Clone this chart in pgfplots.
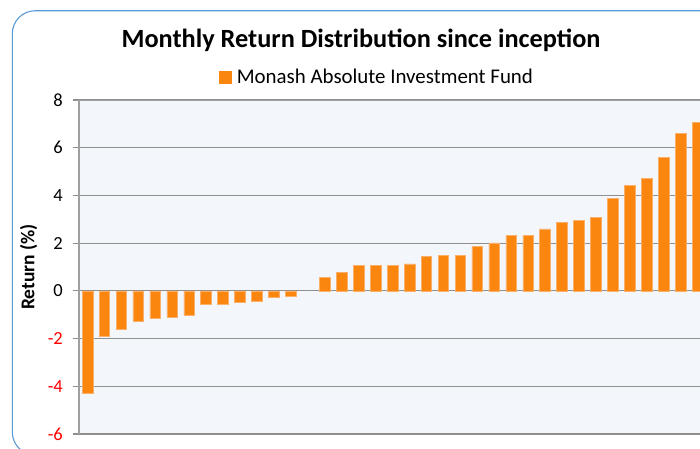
\documentclass[border=0pt]{standalone}
\usepackage{pgfplots}
\pgfplotsset{compat=1.18}
\usepackage{fontspec}
\setmainfont{Carlito}
\definecolor{barorange}{HTML}{FA850F}
\definecolor{baredge}{HTML}{FBB06A}
\definecolor{bgblue}{HTML}{F3F6FB}
\definecolor{gridgray}{HTML}{8F8F8F}
\definecolor{axgray}{HTML}{A0A0A0}
\definecolor{borderblue}{HTML}{5B9BD5}
\begin{document}
\begin{tikzpicture}
\draw[borderblue, line width=1.1pt, rounded corners=23pt] (12.3pt,-10.7pt) rectangle (780pt,-455pt);
\begin{axis}[
  at={(79pt,-434pt)}, anchor=south west,
  scale only axis, width=621pt, height=334pt,
  xmin=-0.5, xmax=36.14,
  ymin=-6, ymax=8,
  ytick={-6,-4,-2,0,2,4,6,8},
  yticklabels={\textcolor{red}{-6},\textcolor{red}{-4},\textcolor{red}{-2},0,2,4,6,8},
  xtick=\empty,
  axis line style={axgray, line width=1.2pt},
  axis x line=none,
  axis y line*=left,
  ymajorgrids,
  grid style={gridgray, line width=1.2pt},
  major tick length=6pt,
  tick align=outside,
  tick style={gridgray, line width=1.2pt},
  yticklabel style={font=\fontsize{18.5}{21}\selectfont, inner sep=0pt, xshift=-10pt},
  ylabel={\textbf{Return (\%)}},
  every axis y label/.style={at={(ticklabel cs:0.5)}, rotate=90, anchor=south,
    font=\fontsize{19.5}{22}\selectfont},
  ylabel shift=7pt,
  axis background/.style={fill=bgblue},
  legend style={at={(0.2254,1.069)}, anchor=west, draw=none, fill=none, inner sep=0pt,
    font=\fontsize{20.9}{24}\selectfont, nodes={inner xsep=5pt}},
  legend image code/.code={\fill[barorange] (0pt,-6pt) rectangle (12pt,6pt);},
]
\addplot[ybar, bar width=0.63, fill=barorange, draw=baredge, line width=0.6pt, bar shift=0pt] coordinates {
(0,-4.30) (1,-1.91) (2,-1.62) (3,-1.26) (4,-1.15) (5,-1.09) (6,-1.03)
(7,-0.56) (8,-0.56) (9,-0.50) (10,-0.45) (11,-0.26) (12,-0.21)
(14,0.55) (15,0.78) (16,1.08) (17,1.08) (18,1.08) (19,1.13) (20,1.43)
(21,1.50) (22,1.50) (23,1.85) (24,2.01) (25,2.31) (26,2.31) (27,2.60)
(28,2.88) (29,2.95) (30,3.08) (31,3.89) (32,4.42) (33,4.71) (34,5.58)
(35,6.59) (36,7.05)
};
\addlegendentry{Monash Absolute Investment Fund}
\draw[axgray, line width=1.2pt] (axis cs:-0.5,8) -- (axis cs:36.14,8);
\end{axis}
\node[anchor=base, font=\bfseries\fontsize{26.3}{30}\selectfont] at (361pt,-47pt) {Monthly Return Distribution since inception};
\pgfresetboundingbox
\path[use as bounding box] (0pt,0pt) rectangle (700pt,-448pt);
\end{tikzpicture}
\end{document}
